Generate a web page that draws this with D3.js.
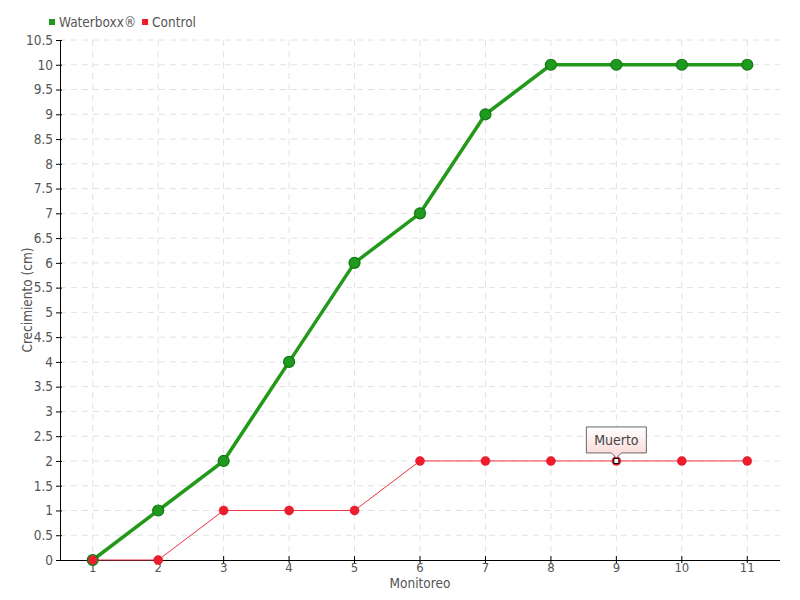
<!DOCTYPE html>
<html><head><meta charset="utf-8">
<script src="https://cdn.jsdelivr.net/npm/d3@7/dist/d3.min.js"></script>
<style>
body{margin:0;background:#fff}
text{font-family:"Liberation Sans Narrow","DejaVu Sans Condensed","Roboto",sans-serif;}
</style></head>
<body><svg id="c" width="800" height="600"></svg>
<script>
const categories = ["1","2","3","4","5","6","7","8","9","10","11"];
const waterboxx = [0,1,2,4,6,7,9,10,10,10,10];
const control = [0,0,1,1,1,2,2,2,2,2,2];
const yTicks = [0,0.5,1,1.5,2,2.5,3,3.5,4,4.5,5,5.5,6,6.5,7,7.5,8,8.5,9,9.5,10,10.5];
const seriesNames = ["Waterboxx®","Control"];
const noteLabel = "Muerto";
const noteIndex = 8;

const svg = d3.select("#c");
const L=60,R=780,T=40,B=560;
const x = d3.scaleBand().domain(categories).range([L,R]);
const y = d3.scaleLinear().domain([0,10.5]).range([B,T]);
const cx = d => x(d)+x.bandwidth()/2;
const fmt = d => String(d);

// grid
const g = svg.append("g");
g.selectAll("line.h").data(yTicks.filter(d=>d>0)).join("line")
  .attr("x1",L).attr("x2",R).attr("y1",d=>y(d)).attr("y2",d=>y(d))
  .attr("stroke","#e2e2e2").attr("stroke-dasharray","6,5");
g.selectAll("line.v").data(categories).join("line")
  .attr("x1",d=>cx(d)).attr("x2",d=>cx(d)).attr("y1",T).attr("y2",B)
  .attr("stroke","#e2e2e2").attr("stroke-dasharray","6,5");

// axes
const yAx = svg.append("g").attr("transform",`translate(${L},0)`)
  .call(d3.axisLeft(y).tickValues(yTicks).tickFormat(fmt).tickSize(4).tickPadding(3));
yAx.select(".domain").remove();
yAx.selectAll(".tick line").attr("x2",-4).attr("x1",2).attr("stroke","#000");
yAx.selectAll("text").attr("font-size",13.5).attr("fill","#555");
svg.append("line").attr("x1",L+0.5).attr("x2",L+0.5).attr("y1",T).attr("y2",B).attr("stroke","#000");

const xAx = svg.append("g").attr("transform",`translate(0,${B})`)
  .call(d3.axisBottom(x).tickSize(4).tickPadding(0));
xAx.select(".domain").remove();
xAx.selectAll(".tick line").attr("y1",-4).attr("y2",3).attr("stroke","#000");
xAx.selectAll("text").attr("font-size",13).attr("fill","#555").attr("dy","0.6em");
svg.append("line").attr("x1",L).attr("x2",R).attr("y1",B+0.5).attr("y2",B+0.5).attr("stroke","#000");

// titles
svg.append("text").attr("x",420).attr("y",588).attr("text-anchor","middle")
  .attr("font-size",13.5).attr("fill","#555").text("Monitoreo");
svg.append("text").attr("transform","translate(32,300) rotate(-90)").attr("text-anchor","middle")
  .attr("font-size",13.5).attr("fill","#555").text("Crecimiento (cm)");

// lines
const line = d3.line().x((d,i)=>cx(categories[i])).y(d=>y(d));
svg.append("path").datum(control).attr("d",line).attr("fill","none")
  .attr("stroke","#ee3344").attr("stroke-width",1);
svg.append("path").datum(waterboxx).attr("d",line).attr("fill","none")
  .attr("stroke","#23991a").attr("stroke-width",3.5);

svg.selectAll("circle.c").data(control).join("circle")
  .attr("cx",(d,i)=>cx(categories[i])).attr("cy",d=>y(d)).attr("r",4.5)
  .attr("fill","#ee1c2c").attr("stroke","#d81020").attr("stroke-width",0.5);
svg.selectAll("circle.w").data(waterboxx).join("circle")
  .attr("cx",(d,i)=>cx(categories[i])).attr("cy",d=>y(d)).attr("r",5.5)
  .attr("fill","#1e9a1e").attr("stroke","#137813").attr("stroke-width",1.2);
svg.append("circle").attr("cx",cx(categories[0])).attr("cy",y(control[0])).attr("r",4.5).attr("fill","#ee1c2c");

// note
const nx = cx(categories[noteIndex]), ny = y(control[noteIndex]);
svg.append("rect").attr("x",nx-2.5).attr("y",ny-2.5).attr("width",5).attr("height",5)
  .attr("fill","#fff").attr("stroke","#000").attr("stroke-width",1);
const defs = svg.append("defs");
const gr = defs.append("linearGradient").attr("id","ng").attr("x1",0).attr("x2",0).attr("y1",0).attr("y2",1);
gr.append("stop").attr("offset","0").attr("stop-color","#ffffff");
gr.append("stop").attr("offset","1").attr("stop-color","#fbd6d6");
const bx=nx-30, by=ny-34, bw=60, bh=26;
svg.append("path").attr("d",`M${bx},${by}h${bw}v${bh}h${-(bw/2-5)}l-5,5l-5,-5h${-(bw/2-5)}z`)
  .attr("fill","url(#ng)").attr("stroke","#666").attr("stroke-width",1);
svg.append("text").attr("x",nx).attr("y",by+18).attr("text-anchor","middle")
  .attr("font-size",14).attr("fill","#444").text(noteLabel);

// legend
let lx = 49;
seriesNames.forEach((n,i)=>{
  const c = i===0 ? "#1e9a1e" : "#ee1c2c";
  svg.append("rect").attr("x",lx).attr("y",19).attr("width",6).attr("height",6).attr("fill",c);
  const t = svg.append("text").attr("x",lx+10).attr("y",27).attr("font-size",13.5).attr("fill","#555").text(n);
  lx += 10 + t.node().getComputedTextLength() + 6;
});
</script></body></html>
